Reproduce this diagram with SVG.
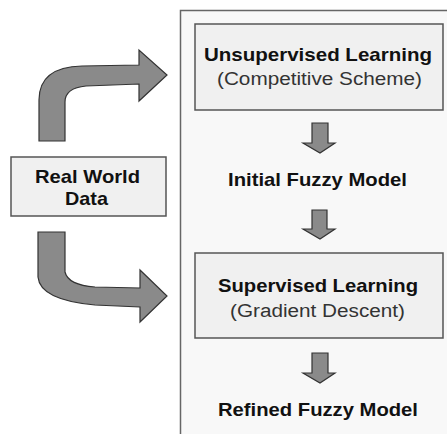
<svg xmlns="http://www.w3.org/2000/svg" width="447" height="434" viewBox="0 0 447 434">
<style>
.box{fill:#f0f0f0;stroke:#555;stroke-width:1.5}
.arr{fill:#8a8a8a;stroke:#333;stroke-width:1.2;stroke-linejoin:miter}
.b{font-family:"Liberation Sans",Arial,sans-serif;font-weight:bold;font-size:19px;fill:#111;text-anchor:middle}
.r{font-family:"Liberation Sans",Arial,sans-serif;font-size:18px;fill:#333;text-anchor:middle}
</style>
<rect width="447" height="434" fill="#fff"/>
<g id="frame"><rect x="180.5" y="10.5" width="300" height="450" fill="#f8f8f8" stroke="#666" stroke-width="1.5"/></g>
<g id="connectors">
<path class="arr" d="M39 141 L39 100 Q39 67 82 66 L139 65 L139 50 L167 75 L139 101 L139 84 L86 86 Q65 88 65 102 L65 141 Z"/>
<path class="arr" d="M38 232 L65 232 L65 272 Q68 285 95 287 L140 288 L140 270 L167 296 L140 322 L140 307 L95 305 Q40 300 38 277 Z"/>
<path class="arr" d="M312 123 L328 123 L328 143 L335 143 L320 153 L303 143 L312 143 Z"/>
<path class="arr" d="M312 210 L327 210 L327 229 L335 229 L320 239 L303 229 L312 229 Z"/>
<path class="arr" d="M312 353 L328 353 L328 373 L335 373 L320 383 L303 373 L312 373 Z"/>
</g>
<g id="realworld">
<rect class="box" x="11" y="157" width="155" height="59"/>
<text class="b" x="87.5" y="183" font-size="18" textLength="105" lengthAdjust="spacingAndGlyphs">Real World</text>
<text class="b" x="86.5" y="205" font-size="18" textLength="43" lengthAdjust="spacingAndGlyphs">Data</text>
</g>
<g id="unsupervised">
<rect class="box" x="195" y="24" width="248" height="86"/>
<text class="b" x="318" y="61" textLength="228" lengthAdjust="spacingAndGlyphs">Unsupervised Learning</text>
<text class="r" x="319.5" y="85" textLength="205" lengthAdjust="spacingAndGlyphs">(Competitive Scheme)</text>
</g>
<g id="initial">
<text class="b" x="317.5" y="186" textLength="179" lengthAdjust="spacingAndGlyphs">Initial Fuzzy Model</text>
</g>
<g id="supervised">
<rect class="box" x="195" y="253" width="248" height="85"/>
<text class="b" x="318" y="292" textLength="200" lengthAdjust="spacingAndGlyphs">Supervised Learning</text>
<text class="r" x="317.5" y="317" textLength="175" lengthAdjust="spacingAndGlyphs">(Gradient Descent)</text>
</g>
<g id="refined">
<text class="b" x="318" y="416" textLength="200" lengthAdjust="spacingAndGlyphs">Refined Fuzzy Model</text>
</g>
</svg>
